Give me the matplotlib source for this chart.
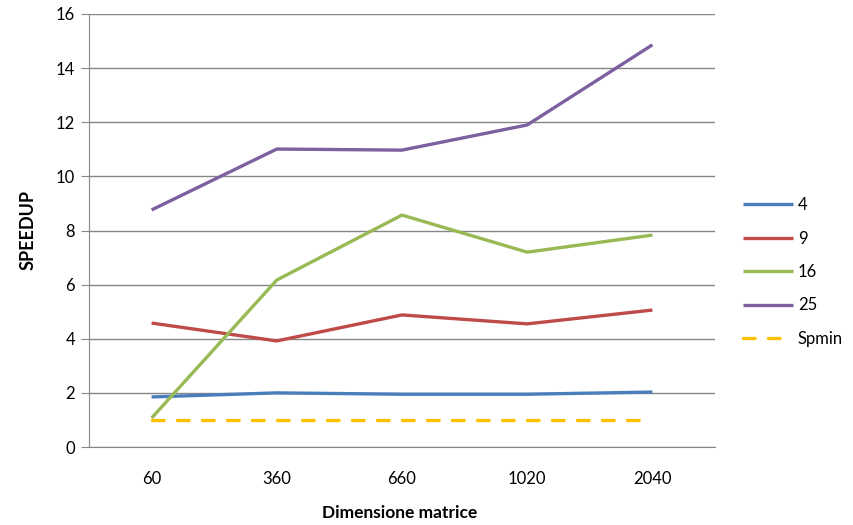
import matplotlib
matplotlib.use("Agg")
import matplotlib.pyplot as plt

plt.rcParams["font.family"] = ["Lato", "DejaVu Sans"]

dims = ["60", "360", "660", "1020", "2040"]
sp4 = [1.85, 2.0, 1.95, 1.95, 2.03]
sp9 = [4.58, 3.92, 4.88, 4.55, 5.06]
sp16 = [1.07, 6.17, 8.57, 7.2, 7.83]
sp25 = [8.76, 11.01, 10.97, 11.9, 14.86]
spmin = [1, 1, 1, 1, 1]

fig = plt.figure(figsize=(8.54, 5.25), dpi=100)
ax = fig.add_axes([89 / 854, 1 - 447 / 525, (715 - 89) / 854, (447 - 14) / 525])

x = [i + 0.5 for i in range(len(dims))]
lw = 2.4
ax.plot(x, sp4, color="#4a7ebb", lw=lw, label="4", solid_capstyle="butt")
ax.plot(x, sp9, color="#be4b48", lw=lw, label="9", solid_capstyle="butt")
ax.plot(x, sp16, color="#98b954", lw=lw, label="16", solid_capstyle="butt")
ax.plot(x, sp25, color="#7d60a0", lw=lw, label="25", solid_capstyle="butt")
ax.plot(x, spmin, color="#ffc000", lw=lw, ls=(0, (3.5, 4)), label="Spmin",
        dash_capstyle="round")

ax.set_xlim(0, len(dims))
ax.set_ylim(0, 16)
ax.set_yticks(range(0, 17, 2))
ax.set_xticks(x)
ax.set_xticklabels(dims)
ax.yaxis.grid(True, color="#868686", lw=1)
ax.set_axisbelow(True)
for s in ["top", "right"]:
    ax.spines[s].set_visible(False)
for s in ["left", "bottom"]:
    ax.spines[s].set_color("#868686")
ax.tick_params(axis="y", length=6, color="#868686", labelsize=12, pad=4)
ax.tick_params(axis="x", length=0, labelsize=12, pad=17)

ax.set_ylabel("SPEEDUP", fontsize=13, fontweight="bold", labelpad=14)
fig.text(400 / 854, 1 - 513 / 525, "Dimensione matrice", fontsize=12.5,
         fontweight="bold", ha="center", va="center")

ax.legend(loc="upper left", bbox_to_anchor=(728 / 854, 1 - 182 / 525),
          bbox_transform=fig.transFigure, frameon=False, fontsize=12,
          handlelength=3.0, handletextpad=0.3, labelspacing=1.05)

fig.savefig("out.png", dpi=100, facecolor="white")
